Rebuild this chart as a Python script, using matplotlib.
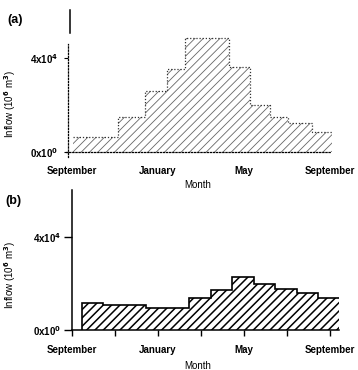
import matplotlib
matplotlib.use("Agg")
import matplotlib.pyplot as plt
import numpy as np

plt.rcParams['font.family'] = ['Liberation Sans', 'DejaVu Sans']
plt.rcParams['font.weight'] = 'bold'
plt.rcParams['mathtext.default'] = 'bf'

# months run Sept (0) -> next Sept (12)
month_ticks = [0, 4, 8, 12]
month_labels = ["September", "January", "May", "September"]

# (a) step histogram, irregular bin edges in months, inflow in 1e4 units
a_edges = [0.05, 2.14, 3.4, 4.42, 5.26, 7.3, 8.28, 9.21, 10.05, 11.16, 12.1]
a_values = [0.65, 1.49, 2.6, 3.53, 4.85, 3.6, 2.0, 1.49, 1.23, 0.85]

# (b) monthly inflow, Sept..Aug, in 1e4 units
b_months = ["Sep", "Oct", "Nov", "Dec", "Jan", "Feb", "Mar", "Apr", "May", "Jun", "Jul", "Aug"]
b_values = [1.15, 1.06, 1.06, 0.94, 0.94, 1.36, 1.70, 2.26, 1.96, 1.74, 1.57, 1.36]
b_offset = 0.45

ytick_vals = [0, 4e4]
ytick_labels = ["0x10$^0$", "4x10$^4$"]

FS = 7.0
fig = plt.figure(figsize=(3.58, 3.70), dpi=100)

# ---- panel (a): dotted, faint hatching ----
axA = fig.add_axes([0.189, 0.5892, 0.757, 0.3838])
plt.rcParams['hatch.linewidth'] = 0.6
axA.stairs(np.array(a_values) * 1e4, a_edges, fill=True, facecolor="white",
           edgecolor="#666666", hatch="////", linewidth=0)
axA.stairs(np.array(a_values) * 1e4, a_edges, fill=False, color="#333333",
           linestyle=(0, (1, 1.5)), linewidth=0.9, baseline=None)
axA.set_xlim(-0.2, 12.4)
axA.set_ylim(0, 6.05e4)
for s in ["top", "right"]:
    axA.spines[s].set_visible(False)
axA.spines["left"].set_linestyle((0, (1, 1.5)))
axA.spines["left"].set_linewidth(0.9)
axA.spines["left"].set_bounds(-0.2e4, 4.6e4)
axA.spines["bottom"].set_linestyle((0, (1, 1.5)))
axA.spines["bottom"].set_linewidth(0.9)
axA.spines["bottom"].set_bounds(-0.3, 12.0)
# solid stub at the top of the y axis
axA.plot([-0.09, -0.09], [5.06e4, 6.05e4], color="black", lw=1.1, clip_on=False)
axA.set_yticks(ytick_vals)
axA.set_yticklabels(ytick_labels, fontsize=FS)
axA.tick_params(axis="y", direction="out", length=3, width=0.8, pad=4)
axA.set_xticks(month_ticks)
axA.set_xticklabels(month_labels, fontsize=FS)
axA.tick_params(axis="x", length=0, pad=10)
axA.set_xlabel("Month", fontsize=FS)
axA.xaxis.set_label_coords(0.48, -0.197)
axA.set_ylabel("Inflow (10$^6$ m$^3$)", fontsize=FS)
axA.yaxis.set_label_coords(-0.183, 0.34)

# ---- panel (b): solid outline, bold hatching ----
axB = fig.add_axes([0.2011, 0.1081, 0.745, 0.3784])
b_edges = np.arange(len(b_values) + 1) + b_offset
plt.rcParams['hatch.linewidth'] = 1.1
axB.stairs(np.array(b_values) * 1e4, b_edges, fill=True, facecolor="white",
           edgecolor="black", hatch="////", linewidth=1.2)
axB.set_xlim(0, 12.4)
axB.set_ylim(0, 6.0e4)
for s in ["top", "right"]:
    axB.spines[s].set_visible(False)
axB.spines["left"].set_linewidth(1.1)
axB.spines["bottom"].set_linewidth(1.1)
axB.set_yticks(ytick_vals)
axB.set_yticklabels(ytick_labels, fontsize=FS)
axB.tick_params(axis="y", direction="out", length=6, width=1, pad=2)
axB.set_xticks(np.arange(0, 13, 2))
axB.set_xticklabels(["September", "", "January", "", "May", "", "September"], fontsize=FS)
axB.tick_params(axis="x", direction="out", length=4, width=1, pad=7)
axB.set_xlabel("Month", fontsize=FS)
axB.xaxis.set_label_coords(0.47, -0.221)
axB.set_ylabel("Inflow (10$^6$ m$^3$)", fontsize=FS)
axB.yaxis.set_label_coords(-0.203, 0.39)

fig.text(15 / 358, 1 - 20 / 370, "(a)", fontsize=9, fontweight="bold", ha="center", va="center")
fig.text(13 / 358, 1 - 201 / 370, "(b)", fontsize=9, fontweight="bold", ha="center", va="center")

fig.savefig("out.png", dpi=100, facecolor="white")
